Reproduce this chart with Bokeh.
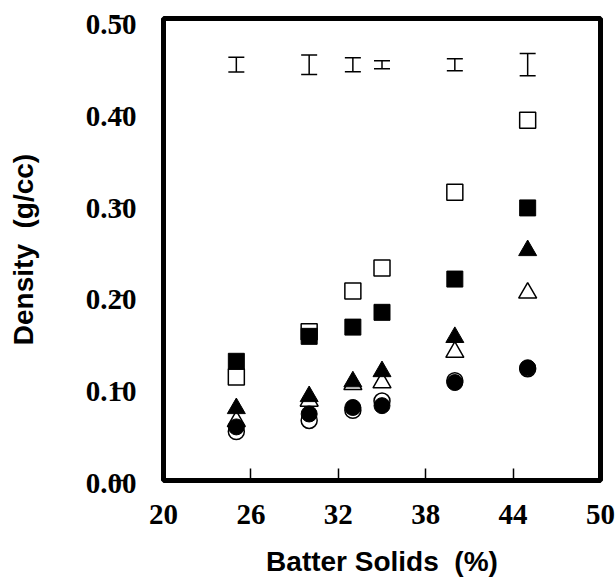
from bokeh.plotting import figure
from bokeh.models import (ColumnDataSource, Whisker, TeeHead, FixedTicker, Label,
                          PrintfTickFormatter, CustomJSTickFormatter, Range1d)
from bokeh.embed import file_html
from bokeh.resources import INLINE

# Batter solids (%) for each formulation
solids = [25, 30, 33, 35, 40, 45]

# Density (g/cc) for each series
open_square = [0.112, 0.161, 0.205, 0.230, 0.312, 0.390]
filled_square = [0.129, 0.156, 0.166, 0.182, 0.218, 0.295]
open_triangle = [0.064, 0.086, 0.104, 0.106, 0.139, 0.203]
filled_triangle = [0.078, 0.091, 0.107, 0.118, 0.155, 0.249]
open_circle = [0.053, 0.065, 0.076, 0.086, 0.108, 0.121]
filled_circle = [0.058, 0.072, 0.079, 0.081, 0.106, 0.122]

# LSD bars drawn above the data
lsd_center = [0.45, 0.45, 0.45, 0.45, 0.45, 0.45]
lsd_half = [0.008, 0.0105, 0.0075, 0.0043, 0.0065, 0.012]

x_ticks = [20, 26, 32, 38, 44, 50]
y_ticks = [0.0, 0.1, 0.2, 0.3, 0.4, 0.5]
y_tick_labels = ["0.00", "0.10", "0.20", "0.30", "0.40", "0.50"]

TICK_FONT = "Liberation Serif"
TITLE_FONT = "Liberation Sans"

p = figure(
    frame_width=437, frame_height=462,
    min_border_left=163, min_border_right=16,
    min_border_top=18, min_border_bottom=101,
    x_range=Range1d(20, 50), y_range=Range1d(0, 0.5),
    output_backend="svg", toolbar_location=None,
    background_fill_color="white", border_fill_color="white",
)
p.grid.visible = False
p.outline_line_color = "black"
p.outline_line_width = 5
p.outline_line_alpha = 1.0

for ax in (p.xaxis[0], p.yaxis[0]):
    ax.axis_line_color = None
    ax.major_tick_in = 12
    ax.major_tick_out = 0
    ax.major_tick_line_width = 1.5
    ax.major_tick_line_color = "black"
    ax.minor_tick_line_color = None
    ax.major_label_text_font = TICK_FONT
    ax.major_label_text_font_style = "bold"
    ax.major_label_text_font_size = "29px"
    ax.major_label_text_color = "black"
    ax.axis_label_text_font = TITLE_FONT
    ax.axis_label_text_font_style = "bold"
    ax.axis_label_text_font_size = "28px"
    ax.axis_label_text_color = "black"

p.xaxis.ticker = FixedTicker(ticks=x_ticks)
p.xaxis.formatter = PrintfTickFormatter(format="%d")
p.xaxis.major_label_standoff = 24
p.xaxis.axis_label = "Batter Solids\u00a0 (%)"
p.xaxis.axis_label_standoff = 19

# the y axis draws the tick marks and the title; its labels hang a little
# below the ticks, so they are set as one column of text in the left margin
p.yaxis.ticker = FixedTicker(ticks=y_ticks)
p.yaxis.formatter = CustomJSTickFormatter(code="return ''")
p.yaxis.major_label_standoff = 0
p.yaxis.axis_label = "Density\u00a0 (g/cc)"
p.yaxis.axis_label_standoff = 74

y_labels = Label(
    x=p.x_range.start, y=(y_ticks[0] + y_ticks[-1]) / 2,
    x_units="data", y_units="data",
    x_offset=-27, y_offset=-4,
    text="\n".join(reversed(y_tick_labels)),
    text_align="right", text_baseline="middle", text_line_height=2.87,
    text_font=TICK_FONT, text_font_style="bold",
    text_font_size="29px", text_color="black",
)
p.add_layout(y_labels, "left")
p.left = [y_labels, p.yaxis[0]]

src = ColumnDataSource(dict(
    x=solids,
    osq=open_square, fsq=filled_square,
    otr=open_triangle, ftr=filled_triangle,
    oci=open_circle, fci=filled_circle,
    lower=[c - h for c, h in zip(lsd_center, lsd_half)],
    upper=[c + h for c, h in zip(lsd_center, lsd_half)],
))

p.add_layout(Whisker(
    source=src, base="x", lower="lower", upper="upper",
    line_color="black", line_width=1.5,
    lower_head=TeeHead(size=16, line_width=1.5, line_color="black"),
    upper_head=TeeHead(size=16, line_width=1.5, line_color="black"),
))

open_style = dict(fill_color="white", line_color="black", line_width=1.5)
filled_style = dict(fill_color="black", line_color="black", line_width=1)

p.scatter("x", "osq", source=src, marker="square", size=16, **open_style)
p.scatter("x", "fsq", source=src, marker="square", size=16, **filled_style)
p.scatter("x", "otr", source=src, marker="triangle", size=18, **open_style)
p.scatter("x", "ftr", source=src, marker="triangle", size=18, **filled_style)
p.scatter("x", "oci", source=src, marker="circle", size=16, **open_style)
p.scatter("x", "fci", source=src, marker="circle", size=16, **filled_style)

open("out.html", "w").write(file_html(p, INLINE))
